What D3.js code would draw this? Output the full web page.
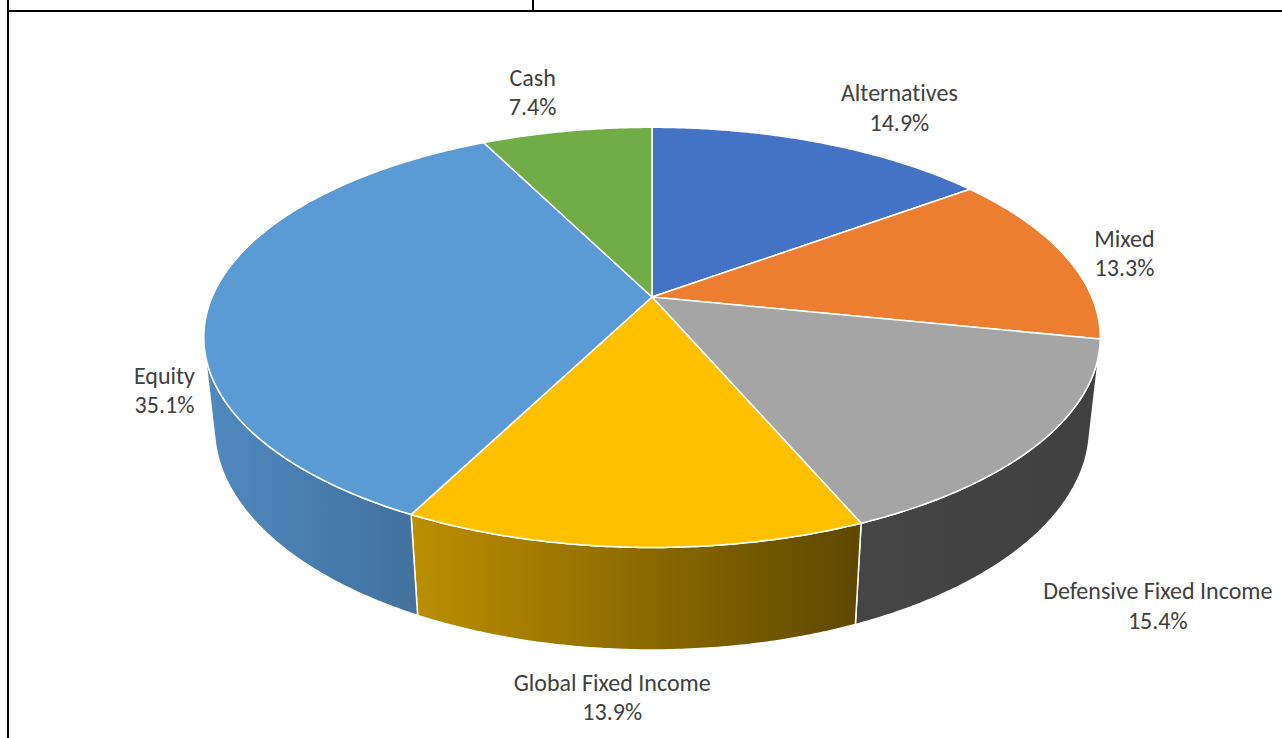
<!DOCTYPE html>
<html>
<head>
<meta charset="utf-8">
<script src="https://cdn.jsdelivr.net/npm/d3@7"></script>
<style>
  html, body { margin: 0; padding: 0; background: #ffffff; }
  svg { display: block; }
  text { font-variant-ligatures: none; font-feature-settings: "liga" 0; }
</style>
</head>
<body>
<svg id="chart" width="1282" height="738"></svg>
<script>
// ---- data ----
const categories = ["Alternatives", "Mixed", "Defensive Fixed Income", "Global Fixed Income", "Equity", "Cash"];
const values = [14.9, 13.3, 15.4, 13.9, 35.1, 7.4];
const valueLabels = ["14.9%", "13.3%", "15.4%", "13.9%", "35.1%", "7.4%"];

// ---- styles ----
const topColors = ["#4472C4", "#ED7D31", "#A5A5A5", "#FFC000", "#5B9BD5", "#70AD47"];
const sideLeft  = ["#33559A", "#B15E25", "#454545", "#BC8F00", "#5089C0", "#54823A"];
const sideRight = ["#2A4780", "#8E4B1D", "#404040", "#5E4700", "#42719D", "#446A2F"];
// label offsets (px) from the projected rim point at each slice's mid angle
const labelOffsets = [[78, -35], [60, -2], [118, 163], [-21, 150], [-48, 94], [-34, -39]];

const W = 1282, H = 738;
const svg = d3.select("#chart");

// ---- frame lines ----
svg.append("line").attr("x1", 8).attr("y1", 0).attr("x2", 8).attr("y2", H)
  .attr("stroke", "#000").attr("stroke-width", 2);
svg.append("line").attr("x1", 7).attr("y1", 11).attr("x2", W).attr("y2", 11)
  .attr("stroke", "#000").attr("stroke-width", 2);
svg.append("line").attr("x1", 533).attr("y1", 0).attr("x2", 533).attr("y2", 11)
  .attr("stroke", "#000").attr("stroke-width", 2);

// ---- 3D projection ----
const cx = 652, cy = 297, focal = 2032, dist = 4.62;
const sinA = 0.46, cosA = Math.sqrt(1 - sinA * sinA);
const depth = 0.233;

function project(theta, r, Y) {
  const X = r * Math.sin(theta), Z = -r * Math.cos(theta);
  const xc = X;
  const yc = Y * cosA - Z * sinA;
  const zc = dist - (Y * sinA + Z * cosA);
  return [cx + focal * xc / zc, cy - focal * yc / zc];
}

const pie = d3.pie().sort(null).value(d => d).startAngle(0).endAngle(2 * Math.PI);
const arcs = pie(values);

const defs = svg.append("defs");
const step = Math.PI / 360;

function rimPoints(a0, a1, Y) {
  const pts = [];
  const n = Math.max(2, Math.ceil((a1 - a0) / step));
  for (let i = 0; i <= n; i++) pts.push(project(a0 + (a1 - a0) * i / n, 1, Y));
  return pts;
}

const limit = Math.acos(-1 / (dist * cosA));
const visLo = limit, visHi = 2 * Math.PI - limit;

const line = d3.line();
const gSides = svg.append("g");
const gTops = svg.append("g");

arcs.forEach((a, i) => {
  const lo = Math.max(a.startAngle, visLo), hi = Math.min(a.endAngle, visHi);
  if (hi > lo) {
    const top = rimPoints(lo, hi, 0);
    const bot = rimPoints(lo, hi, -depth).reverse();
    const poly = top.concat(bot);
    const xs = poly.map(p => p[0]);
    const gid = "side" + i;
    const grad = defs.append("linearGradient").attr("id", gid)
      .attr("gradientUnits", "userSpaceOnUse")
      .attr("x1", d3.min(xs)).attr("x2", d3.max(xs)).attr("y1", 0).attr("y2", 0);
    grad.append("stop").attr("offset", 0).attr("stop-color", sideLeft[i]);
    grad.append("stop").attr("offset", 1).attr("stop-color", sideRight[i]);
    gSides.append("path")
      .attr("d", line(poly) + "Z")
      .attr("fill", `url(#${gid})`)
      .attr("stroke", "#ffffff").attr("stroke-width", 1.5).attr("stroke-linejoin", "round");
  }
  const pts = [project(0, 0, 0)].concat(rimPoints(a.startAngle, a.endAngle, 0));
  gTops.append("path")
    .attr("d", line(pts) + "Z")
    .attr("fill", topColors[i])
    .attr("stroke", "#ffffff").attr("stroke-width", 1.5).attr("stroke-linejoin", "round");
});

// ---- labels ----
const gLabels = svg.append("g")
  .attr("font-family", "Calibri, Carlito, Lato, 'Open Sans', sans-serif")
  .attr("font-size", 24).attr("fill", "#404040").attr("text-anchor", "middle");
arcs.forEach((a, i) => {
  const mid = (a.startAngle + a.endAngle) / 2;
  const p = project(mid, 1, 0);
  const x = p[0] + labelOffsets[i][0], y = p[1] + labelOffsets[i][1];
  const t = gLabels.append("text").attr("x", x).attr("y", y);
  t.append("tspan").attr("x", x).attr("dy", "-0.27em").text(categories[i]);
  t.append("tspan").attr("x", x).attr("dy", "1.23em").text(valueLabels[i]);
});
</script>
</body>
</html>
